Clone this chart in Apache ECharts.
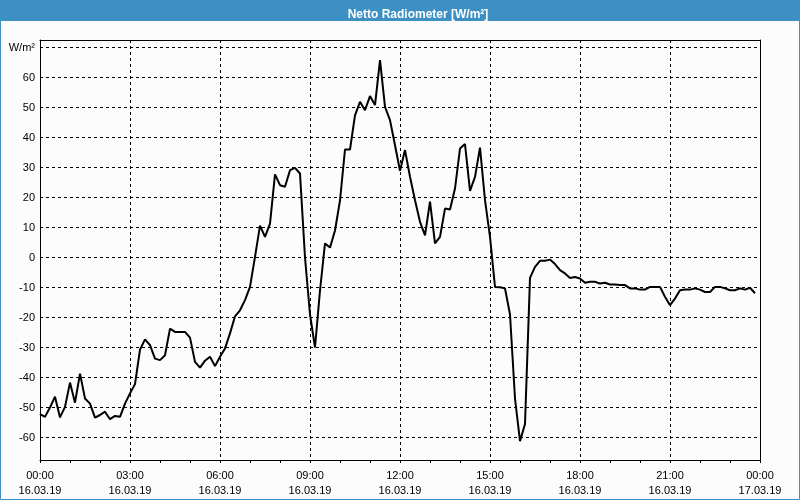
<!DOCTYPE html>
<html>
<head>
<meta charset="utf-8">
<script src="https://cdn.jsdelivr.net/npm/echarts@6/dist/echarts.min.js"></script>
<style>html,body{margin:0;padding:0;background:#fbfcfb}#c{width:800px;height:500px}</style>
</head>
<body>
<div id="c"></div>
<script>
// ---- data ----
var titleText = 'Netto Radiometer [W/m²]';
var unitLabel = 'W/m²';
var dayLabels = ['16.03.19', '17.03.19'];
// 10-minute samples from 16.03.19 00:00 to 23:50
var netRadiation = [
  -52.2, -53.1, -50.0, -46.4, -53.3, -49.8, -41.7, -48.4, -38.7, -47.0, -48.7, -53.4,
  -52.5, -51.4, -53.9, -52.8, -53.1, -48.7, -45.3, -42.2, -30.7, -27.3, -29.2, -33.7,
  -34.2, -32.6, -23.7, -24.8, -24.8, -24.8, -26.7, -34.8, -36.7, -34.4, -33.1, -36.2,
  -33.1, -30.3, -25.3, -19.6, -17.6, -14.2, -9.8, 0.2, 10.6, 6.9, 11.3, 27.7,
  24.1, 23.6, 29.1, 29.9, 28.0, 0.0, -19.0, -30.0, -11.0, 4.7, 3.3, 9.0,
  19.0, 36.0, 36.0, 47.4, 51.9, 49.1, 53.8, 50.8, 65.8, 50.2, 45.8, 37.4,
  28.9, 35.8, 26.9, 19.1, 11.9, 7.4, 18.6, 4.7, 6.9, 16.3, 16.0, 23.0,
  36.3, 37.8, 22.2, 26.9, 36.6, 19.1, 6.9, -9.8, -9.9, -10.3, -19.0, -47.0,
  -61.2, -55.5, -6.8, -3.1, -1.1, -1.1, -0.7, -2.2, -4.2, -5.3, -6.8, -6.5,
  -7.0, -8.4, -8.1, -8.1, -8.7, -8.4, -9.0, -9.0, -9.2, -9.2, -10.3, -10.3,
  -10.7, -10.7, -9.8, -9.8, -9.8, -13.1, -15.9, -13.7, -10.9, -10.7, -10.7, -10.3,
  -10.7, -11.5, -11.5, -9.8, -9.8, -10.3, -10.9, -10.9, -10.3, -10.7, -10.1, -11.9
];
var yTickMin = -60, yTickMax = 70, yTickStep = 10;

// time categories (labels), 00:00 .. 24:00 in 10-min steps
var timeCategories = [];
for (var m = 0; m <= 24 * 60; m += 10) {
  var h = Math.floor(m / 60) % 24, mm = m % 60;
  var day = m < 24 * 60 ? dayLabels[0] : dayLabels[1];
  timeCategories.push((h < 10 ? '0' : '') + h + ':' + (mm < 10 ? '0' : '') + mm + '|' + day);
}

var font = 'Liberation Sans, Arial, sans-serif';
var chart = echarts.init(document.getElementById('c'), null, {renderer: 'canvas'});
chart.setOption({
  animation: false,
  backgroundColor: '#fbfcfb',
  graphic: [
    {type: 'rect', shape: {x: 0, y: 0, width: 800, height: 21}, style: {fill: '#3c90c4'}, silent: true, z: -1},
    {type: 'rect', shape: {x: 0.5, y: 0.5, width: 799, height: 499}, style: {fill: null, stroke: '#3c90c4', lineWidth: 1}, silent: true, z: -1}
  ],
  title: {
    text: titleText, left: 413, top: 4, textAlign: 'center',
    textStyle: {color: '#ffffff', fontFamily: font, fontSize: 12, fontWeight: 'bold'}
  },
  grid: [
    {left: 40, right: 40, top: 40, bottom: 40, containLabel: false},
    {left: 40, right: 40, top: 47.5, bottom: 62.5, containLabel: false}
  ],
  xAxis: [
    {
      gridIndex: 0, type: 'category', data: timeCategories, boundaryGap: false, position: 'bottom',
      axisLine: {show: true, lineStyle: {color: '#000', width: 1}},
      axisTick: {show: true, interval: 5, length: 3, lineStyle: {color: '#000'}},
      axisLabel: {
        interval: 17, margin: 8, color: '#000', fontFamily: font, fontSize: 11, lineHeight: 15,
        formatter: function (v) { var p = v.split('|'); return p[0] + '\n' + p[1]; }
      },
      splitLine: {show: true, interval: 17, lineStyle: {color: '#000', type: [3, 3], width: 1}}
    },
    {
      gridIndex: 0, type: 'value', position: 'top', min: 0, max: 1,
      axisLine: {show: true, onZero: false, lineStyle: {color: '#000'}},
      axisTick: {show: false}, axisLabel: {show: false}, splitLine: {show: false}
    },
    {
      gridIndex: 1, type: 'category', data: timeCategories, boundaryGap: false, show: false
    }
  ],
  yAxis: [
    {
      gridIndex: 0, type: 'value', position: 'left', min: 0, max: 1,
      axisLine: {show: true, onZero: false, lineStyle: {color: '#000'}},
      axisTick: {show: false}, axisLabel: {show: false}, splitLine: {show: false}
    },
    {
      gridIndex: 0, type: 'value', position: 'right', min: 0, max: 1,
      axisLine: {show: true, onZero: false, lineStyle: {color: '#000'}},
      axisTick: {show: false}, axisLabel: {show: false}, splitLine: {show: false}
    },
    {
      gridIndex: 1, type: 'value', min: yTickMin, max: yTickMax, interval: yTickStep,
      axisLine: {show: false}, axisTick: {show: false},
      axisLabel: {
        margin: 5, color: '#000', fontFamily: font, fontSize: 11,
        formatter: function (v) { return v === yTickMax ? unitLabel : String(v); }
      },
      splitLine: {show: true, lineStyle: {color: '#000', type: [3, 3], width: 1}}
    }
  ],
  series: [{
    type: 'line', xAxisIndex: 2, yAxisIndex: 2, data: netRadiation,
    showSymbol: false, symbol: 'none', clip: false,
    lineStyle: {color: '#000', width: 2}, z: 5
  }]
});
</script>
</body>
</html>
